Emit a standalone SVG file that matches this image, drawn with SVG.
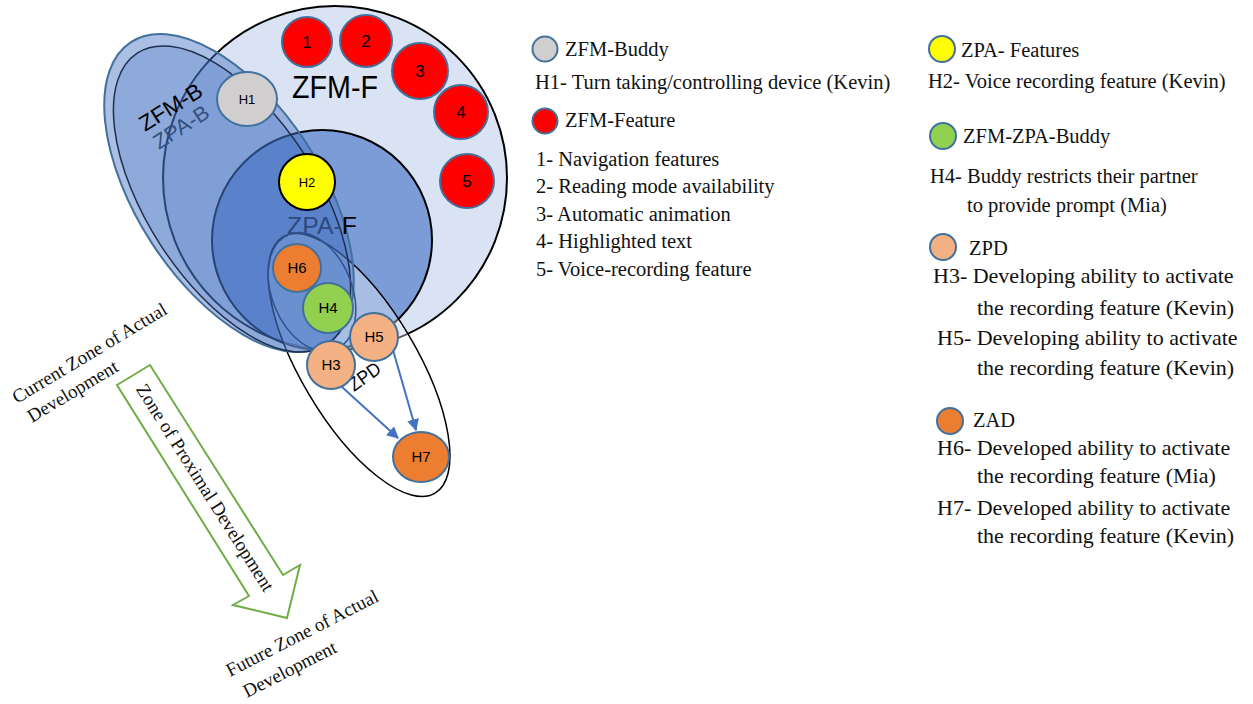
<svg xmlns="http://www.w3.org/2000/svg" width="1253" height="704" viewBox="0 0 1253 704">
<style>
.sans{font-family:"Liberation Sans",Arial,sans-serif}
.serif{font-family:"Liberation Serif","Times New Roman",serif;fill:#111}
.leg{font-size:20.5px}
.leg2{font-size:22px}
.node{stroke:#41719c;stroke-width:2}
.num{font-size:17px;text-anchor:middle}
.hl{font-size:15px;text-anchor:middle}
.conn{stroke:#4472c4;stroke-width:2;fill:none}
</style>
<defs>
<marker id="ah" viewBox="0 0 10 10" refX="9" refY="5" markerWidth="6" markerHeight="6" orient="auto" markerUnits="strokeWidth">
<path d="M0,0 L10,5 L0,10 z" fill="#4472c4"/>
</marker>
</defs>
<rect width="1253" height="704" fill="#ffffff"/>

<g id="zfm-f">
<circle cx="335" cy="178" r="172" fill="#dae3f3" stroke="#000" stroke-width="2"/>
<text class="sans" x="292" y="98" font-size="31" textLength="86" lengthAdjust="spacingAndGlyphs">ZFM-F</text>
</g>

<g id="zpa-f">
<circle cx="322" cy="240" r="110" fill="#4472c4" fill-opacity="0.63" stroke="#000" stroke-width="2"/>
</g>

<g id="zpd">
<ellipse cx="359" cy="365" rx="149" ry="58" transform="rotate(59.3 359 365)" fill="#ffffff" fill-opacity="0.34" stroke="#000" stroke-width="1.5"/>
<text class="sans" font-size="19" transform="translate(354 392) rotate(-35.5)" textLength="35" lengthAdjust="spacingAndGlyphs">ZPD</text>
</g>

<g id="zfm-b">
<ellipse cx="229" cy="193" rx="180" ry="92" transform="rotate(57 229 193)" fill="#4472c4" fill-opacity="0.45" stroke="#41719c" stroke-width="2"/>
</g>
<g id="zpa-b">
<ellipse cx="232" cy="199" rx="174" ry="85" transform="rotate(57 232 199)" fill="#4472c4" fill-opacity="0.27" stroke="#1f2f4f" stroke-width="1.5"/>
</g>

<g id="zone-labels">
<text class="sans" font-size="21" fill="#34507f" transform="translate(159 150) rotate(-33)" textLength="62" lengthAdjust="spacingAndGlyphs">ZPA-B</text>
<text class="sans" font-size="22" transform="translate(145 132) rotate(-32)" textLength="70" lengthAdjust="spacingAndGlyphs">ZFM-B</text>
<text class="sans" x="287" y="234" font-size="24.5" textLength="70" lengthAdjust="spacingAndGlyphs"><tspan fill="#2d4a80">ZPA-</tspan><tspan fill="#000">F</tspan></text>
</g>

<g id="zad-group">
<ellipse cx="312" cy="292" rx="62" ry="40" transform="rotate(68 312 292)" fill="none" stroke="#2f528f" stroke-width="1.5"/>
</g>

<g id="f1"><circle class="node" cx="307" cy="42" r="25" fill="#ff0000"/><text class="sans num" x="307" y="48">1</text></g>
<g id="f2"><circle class="node" cx="366" cy="41" r="26" fill="#ff0000"/><text class="sans num" x="366" y="47">2</text></g>
<g id="f3"><circle class="node" cx="420" cy="71" r="28" fill="#ff0000"/><text class="sans num" x="420" y="77">3</text></g>
<g id="f4"><circle class="node" cx="461" cy="112" r="27" fill="#ff0000"/><text class="sans num" x="461" y="118">4</text></g>
<g id="f5"><circle class="node" cx="467" cy="181" r="27" fill="#ff0000"/><text class="sans num" x="467" y="187">5</text></g>

<g id="h1"><ellipse class="node" cx="247" cy="99" rx="30" ry="27" fill="#d0cece"/><text class="sans" x="247" y="104" font-size="13" text-anchor="middle">H1</text></g>
<g id="h2"><circle cx="307" cy="182" r="28" fill="#ffff00" stroke="#000" stroke-width="2"/><text class="sans" x="307" y="187" font-size="13" text-anchor="middle">H2</text></g>
<g id="h6"><circle class="node" cx="297" cy="268" r="24" fill="#ed7d31"/><text class="sans hl" x="297" y="273">H6</text></g>
<g id="h4"><circle class="node" cx="328" cy="308" r="25" fill="#92d050"/><text class="sans hl" x="328" y="313">H4</text></g>
<g id="h5"><circle class="node" cx="374" cy="337" r="24" fill="#f4b183"/><text class="sans hl" x="374" y="342">H5</text></g>
<g id="h3"><circle class="node" cx="331" cy="365" r="24" fill="#f4b183"/><text class="sans hl" x="331" y="370">H3</text></g>
<g id="h7"><ellipse class="node" cx="421" cy="457" rx="28" ry="25" fill="#ed7d31"/><text class="sans hl" x="421" y="462">H7</text></g>

<g id="connectors">
<line class="conn" x1="342" y1="387" x2="398" y2="438" marker-end="url(#ah)"/>
<line class="conn" x1="393" y1="350" x2="416" y2="430" marker-end="url(#ah)"/>
</g>

<g id="zpd-arrow">
<polygon points="117,385 150,365 283,575 300,565 287,618 233,605 249,596" fill="#ffffff" stroke="#70ad47" stroke-width="2" stroke-linejoin="miter"/>
<text class="serif" font-size="19" text-anchor="middle" transform="translate(200 491) rotate(57.7)">Zone of Proximal Development</text>
</g>

<g id="current-zad">
<text class="serif" font-size="19" transform="translate(17 404) rotate(-31)">Current Zone of Actual</text>
<text class="serif" font-size="19" transform="translate(32 423) rotate(-31)">Development</text>
</g>
<g id="future-zad">
<text class="serif" font-size="19" transform="translate(230 677) rotate(-27)">Future Zone of Actual</text>
<text class="serif" font-size="19" transform="translate(247 698) rotate(-27)">Development</text>
</g>

<g id="legend-zfm-buddy">
<circle class="node" cx="545" cy="49" r="12.5" fill="#d0cece"/>
<text class="serif leg" x="565" y="56">ZFM-Buddy</text>
<text class="serif leg" x="535" y="89">H1- Turn taking/controlling device (Kevin)</text>
</g>
<g id="legend-zfm-feature">
<circle class="node" cx="545" cy="121" r="12.5" fill="#ff0000"/>
<text class="serif leg" x="565" y="127">ZFM-Feature</text>
<text class="serif leg" x="536" y="166">1- Navigation features</text>
<text class="serif leg" x="536" y="193">2- Reading mode availability</text>
<text class="serif leg" x="536" y="221">3- Automatic animation</text>
<text class="serif leg" x="536" y="248">4- Highlighted text</text>
<text class="serif leg" x="536" y="276">5- Voice-recording feature</text>
</g>
<g id="legend-zpa-features">
<circle class="node" cx="942" cy="49" r="13" fill="#ffff00"/>
<text class="serif leg" x="961" y="57">ZPA- Features</text>
<text class="serif leg" x="928" y="88">H2- Voice recording feature (Kevin)</text>
</g>
<g id="legend-zfm-zpa-buddy">
<circle class="node" cx="943" cy="136" r="13" fill="#92d050"/>
<text class="serif leg" x="963" y="143">ZFM-ZPA-Buddy</text>
<text class="serif leg" x="930" y="183">H4- Buddy restricts their partner</text>
<text class="serif leg" x="967" y="212">to provide prompt (Mia)</text>
</g>
<g id="legend-zpd">
<circle class="node" cx="943" cy="247" r="13" fill="#f4b183"/>
<text class="serif leg" x="969" y="255">ZPD</text>
<text class="serif leg2" x="933" y="283">H3- Developing ability to activate</text>
<text class="serif leg2" x="977" y="315">the recording feature (Kevin)</text>
<text class="serif leg2" x="937" y="345">H5- Developing ability to activate</text>
<text class="serif leg2" x="977" y="375">the recording feature (Kevin)</text>
</g>
<g id="legend-zad">
<circle class="node" cx="950" cy="421" r="13" fill="#ed7d31"/>
<text class="serif leg" x="973" y="427">ZAD</text>
<text class="serif leg2" x="937" y="455">H6- Developed ability to activate</text>
<text class="serif leg2" x="977" y="483">the recording feature (Mia)</text>
<text class="serif leg2" x="937" y="515">H7- Developed ability to activate</text>
<text class="serif leg2" x="977" y="543">the recording feature (Kevin)</text>
</g>
</svg>
